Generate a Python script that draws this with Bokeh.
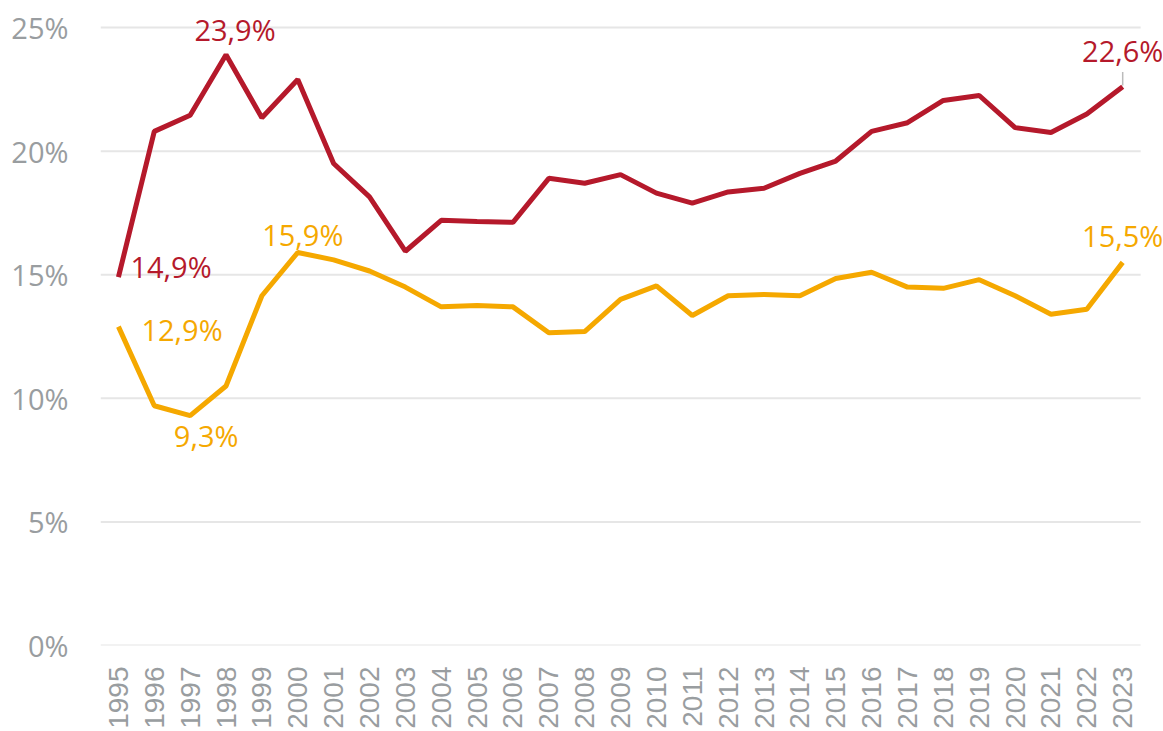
from bokeh.plotting import figure
from bokeh.models import Range1d, FixedTicker, PrintfTickFormatter, Label
from bokeh.embed import file_html
from bokeh.resources import INLINE
import math

years = list(range(1995, 2024))
red_values = [14.9, 20.8, 21.45, 23.9, 21.35, 22.9, 19.5, 18.15, 15.95, 17.2, 17.15, 17.12,
              18.9, 18.7, 19.05, 18.3, 17.9, 18.35, 18.5, 19.1, 19.6, 20.8, 21.15, 22.05,
              22.25, 20.95, 20.75, 21.5, 22.6]
yellow_values = [12.9, 9.7, 9.3, 10.5, 14.15, 15.9, 15.6, 15.15, 14.5, 13.7, 13.75, 13.7,
                 12.65, 12.7, 14.0, 14.55, 13.35, 14.15, 14.2, 14.15, 14.85, 15.1, 14.5, 14.45,
                 14.8, 14.15, 13.4, 13.6, 15.5]
y_ticks = [0, 5, 10, 15, 20, 25]

RED = "#B5192B"
YEL = "#F5A800"
GREY = "#999DA0"

p = figure(frame_width=1062, frame_height=637, output_backend="svg", toolbar_location=None,
           x_range=Range1d(1994.5, 2024.11), y_range=Range1d(0, 25.77),
           min_border_left=100, min_border_right=1, min_border_top=8, min_border_bottom=10)
p.outline_line_color = None
p.xgrid.grid_line_color = None
p.ygrid.grid_line_color = None
p.yaxis.ticker = FixedTicker(ticks=y_ticks)
p.yaxis.formatter = PrintfTickFormatter(format="%d%%")
p.xaxis.ticker = FixedTicker(ticks=years)
for ax in (p.xaxis, p.yaxis):
    ax.axis_line_color = None
    ax.major_tick_line_color = None
    ax.minor_tick_line_color = None
    ax.major_tick_out = 0
    ax.major_tick_in = 0
    ax.minor_tick_out = 0
    ax.minor_tick_in = 0
    ax.major_label_text_color = GREY
p.yaxis.major_label_text_font = "Open Sans"
p.yaxis.major_label_text_font_size = "29px"
p.yaxis.major_label_standoff = 32
p.xaxis.major_label_text_font = "Liberation Sans"
p.xaxis.major_label_text_font_size = "28px"
p.xaxis.major_label_orientation = math.pi / 2
p.xaxis.major_label_standoff = 21

# gridlines limited to the data span
p.segment(x0=[years[0] - 0.5] * len(y_ticks), y0=y_ticks,
          x1=[years[-1] + 0.5] * len(y_ticks), y1=y_ticks,
          line_color="#E6E6E6", line_width=2)

p.line(years, red_values, line_color=RED, line_width=5)
p.line(years, yellow_values, line_color=YEL, line_width=5)

# leader line for last red label
p.segment(x0=[2023], y0=[red_values[-1] + 0.05], x1=[2023], y1=[red_values[-1] + 0.6],
          line_color="#BBBBBB", line_width=1.5)

labels = [
    (1998, red_values[3], "23,9%", RED, "center", 9, 25),
    (1995, red_values[0], "14,9%", RED, "left", 12, 11),
    (1995, yellow_values[0], "12,9%", YEL, "left", 23, -3),
    (1997, yellow_values[2], "9,3%", YEL, "center", 16, -20),
    (2000, yellow_values[5], "15,9%", YEL, "center", 5, 18),
    (2023, red_values[-1], "22,6%", RED, "center", 0, 36),
    (2023, yellow_values[-1], "15,5%", YEL, "center", 0, 27),
]
for x, y, t, c, al, xo, yo in labels:
    p.add_layout(Label(x=x, y=y, text=t, text_color=c, text_align=al, text_baseline="middle",
                       x_offset=xo, y_offset=yo, text_font="Open Sans", text_font_size="29px"))

open("out.html", "w").write(file_html(p, INLINE))
